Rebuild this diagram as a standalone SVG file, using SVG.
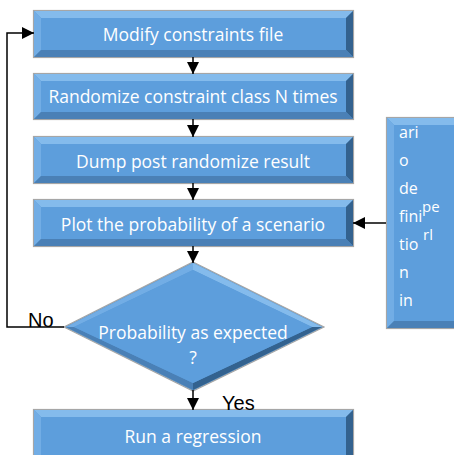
<svg xmlns="http://www.w3.org/2000/svg" width="454" height="455" viewBox="0 0 454 455">
<defs>
<style>
.border{fill:#5b9bd5;stroke:#a6a6a6;stroke-width:1.2}
.bt{fill:#84bbec}
.bl{fill:#72ade5}
.br{fill:#33628f}
.bb{fill:#4a80b6}
.face{fill:#5d9edc}
.lbl{font-family:"Open Sans","Liberation Sans",Arial,sans-serif;font-size:17.5px;fill:#ffffff;text-anchor:middle}
.side{font-family:"Open Sans","Liberation Sans",Arial,sans-serif;font-size:16px;fill:#ffffff}
.sup{font-family:"Open Sans","Liberation Sans",Arial,sans-serif;font-size:15px;fill:#ffffff}
.yn{font-family:"Liberation Sans",Arial,sans-serif;font-size:20px;fill:#000000}
.conn{fill:none;stroke:#000000;stroke-width:1.5}
</style>
<marker id="ah" markerUnits="userSpaceOnUse" markerWidth="14" markerHeight="14" refX="12" refY="7" orient="auto">
<path d="M0,1 L12,7 L0,13 Z" fill="#000"/>
</marker>
</defs>

<g id="n1">
<rect class="border" x="33.5" y="10.5" width="320" height="47"/>
<polygon class="bt" points="34,11 353,11 346,18 41,18"/>
<polygon class="bl" points="34,11 41,18 41,50 34,57"/>
<polygon class="br" points="353,11 353,57 346,50 346,18"/>
<polygon class="bb" points="34,57 41,50 346,50 353,57"/>
<rect class="face" x="41" y="18" width="305" height="32"/>
<text class="lbl" x="193" y="41">Modify constraints file</text>
</g>

<g id="n2">
<rect class="border" x="33.5" y="73.5" width="320" height="46"/>
<polygon class="bt" points="34,74 353,74 346,81 41,81"/>
<polygon class="bl" points="34,74 41,81 41,112 34,119"/>
<polygon class="br" points="353,74 353,119 346,112 346,81"/>
<polygon class="bb" points="34,119 41,112 346,112 353,119"/>
<rect class="face" x="41" y="81" width="305" height="31"/>
<text class="lbl" x="193" y="103">Randomize constraint class N times</text>
</g>

<g id="n3">
<rect class="border" x="33.5" y="136.5" width="320" height="47"/>
<polygon class="bt" points="34,137 353,137 346,144 41,144"/>
<polygon class="bl" points="34,137 41,144 41,176 34,183"/>
<polygon class="br" points="353,137 353,183 346,176 346,144"/>
<polygon class="bb" points="34,183 41,176 346,176 353,183"/>
<rect class="face" x="41" y="144" width="305" height="32"/>
<text class="lbl" x="193" y="168">Dump post randomize result</text>
</g>

<g id="n4">
<rect class="border" x="33.5" y="199.5" width="320" height="47"/>
<polygon class="bt" points="34,200 353,200 346,207 41,207"/>
<polygon class="bl" points="34,200 41,207 41,239 34,246"/>
<polygon class="br" points="353,200 353,246 346,239 346,207"/>
<polygon class="bb" points="34,246 41,239 346,239 353,246"/>
<rect class="face" x="41" y="207" width="305" height="32"/>
<text class="lbl" x="193" y="231">Plot the probability of a scenario</text>
</g>

<g id="n5">
<polygon class="border" points="193,262 324,327 193,391 64,327"/>
<polygon class="bt" points="193,263 322,327 312,327 193,270"/>
<polygon class="bl" points="193,263 193,270 74,327 66,327"/>
<polygon class="bb" points="66,327 74,327 193,383 193,390"/>
<polygon class="br" points="322,327 193,390 193,383 312,327"/>
<polygon class="face" points="193,270 312,327 193,383 74,327"/>
<text class="lbl" x="193" y="339">Probability as expected</text>
<text class="lbl" x="193" y="364">?</text>
</g>

<g id="n6">
<rect class="border" x="33.5" y="409.5" width="320" height="48"/>
<polygon class="bt" points="34,410 353,410 346,417 41,417"/>
<polygon class="bl" points="34,410 41,417 41,460 34,460"/>
<polygon class="br" points="353,410 353,460 346,460 346,417"/>
<rect class="face" x="41" y="417" width="305" height="43"/>
<text class="lbl" x="193" y="443">Run a regression</text>
</g>

<g id="n7">
<rect class="border" x="386.5" y="117.5" width="75" height="211"/>
<polygon class="bt" points="387,118 461,118 461,125 394,125"/>
<polygon class="bl" points="387,118 394,125 394,321 387,328"/>
<polygon class="bb" points="387,328 394,321 461,321 461,328"/>
<rect class="face" x="394" y="125" width="67" height="196"/>
<text class="side" x="399" y="138">ari</text>
<text class="side" x="399" y="166">o</text>
<text class="side" x="399" y="194">de</text>
<text class="side" x="399" y="222">fini</text>
<text class="side" x="399" y="250">tio</text>
<text class="side" x="399" y="278">n</text>
<text class="side" x="399" y="306">in</text>
<text class="sup" x="422" y="212">pe</text>
<text class="sup" x="423" y="240">rl</text>
</g>

<g id="connectors">
<line class="conn" x1="193" y1="57" x2="193" y2="74" marker-end="url(#ah)"/>
<line class="conn" x1="193" y1="119" x2="193" y2="137" marker-end="url(#ah)"/>
<line class="conn" x1="193" y1="183" x2="193" y2="200" marker-end="url(#ah)"/>
<line class="conn" x1="193" y1="246" x2="193" y2="263" marker-end="url(#ah)"/>
<line class="conn" x1="193" y1="390" x2="193" y2="410" marker-end="url(#ah)"/>
<polyline class="conn" points="64,327 7,327 7,33 34,33" marker-end="url(#ah)"/>
<line class="conn" x1="386" y1="223" x2="353" y2="223" marker-end="url(#ah)"/>
<text class="yn" x="28" y="327">No</text>
<text class="yn" x="222" y="410">Yes</text>
</g>
</svg>
